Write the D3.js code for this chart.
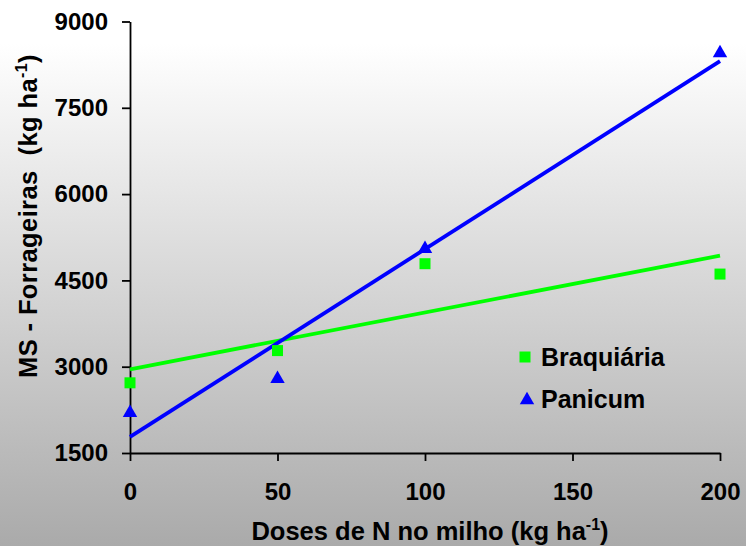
<!DOCTYPE html>
<html>
<head>
<meta charset="utf-8">
<script src="https://cdn.jsdelivr.net/npm/d3@7"></script>
<style>
  body { margin: 0; }
  svg { display: block; font-family: "Liberation Sans", Arial, sans-serif; font-weight: bold; }
</style>
</head>
<body>
<div id="chart"></div>
<script>
// observed points
const doses = [0, 50, 100, 200];
const braquiaria = [2720, 3280, 4790, 4610];
const panicum = [2200, 2790, 5050, 8450];

// fitted lines, read at both ends
const fitDoses = [0, 200];
const braquiariaFit = [2955, 4930];
const panicumFit = [1780, 8310];

const xTicks = [0, 50, 100, 150, 200];
const yTicks = [1500, 3000, 4500, 6000, 7500, 9000];

const width = 746, height = 546;

const svg = d3.select("#chart")
    .append("svg")
    .attr("width", width)
    .attr("height", height);

const grad = svg.append("defs")
    .append("linearGradient")
    .attr("id", "bg")
    .attr("x1", "0%").attr("y1", "0%")
    .attr("x2", "0%").attr("y2", "100%");
grad.append("stop").attr("offset", "0%").attr("stop-color", "#ffffff");
grad.append("stop").attr("offset", "8%").attr("stop-color", "#ffffff");
grad.append("stop").attr("offset", "100%").attr("stop-color", "#aaaaaa");

svg.append("rect")
    .attr("width", width)
    .attr("height", height)
    .attr("fill", "url(#bg)");

const x = d3.scaleLinear().domain([0, 200]).range([130, 720]);
const y = d3.scaleLinear().domain([1500, 9000]).range([453, 21.5]);

// axes
const xAxis = d3.axisBottom(x)
    .tickValues(xTicks)
    .tickFormat(d3.format("d"))
    .tickSize(8)
    .tickSizeOuter(0)
    .tickPadding(22);

const yAxis = d3.axisLeft(y)
    .tickValues(yTicks)
    .tickFormat(d3.format("d"))
    .tickSize(8)
    .tickSizeOuter(0)
    .tickPadding(14);

const gx = svg.append("g")
    .attr("transform", `translate(0,${y(1500)})`)
    .call(xAxis);

const gy = svg.append("g")
    .attr("transform", `translate(${x(0)},0)`)
    .call(yAxis);

[gx, gy].forEach(g => {
    g.selectAll("path, line").attr("stroke", "#000").attr("stroke-width", 1.8);
    g.selectAll("text")
        .attr("fill", "#000")
        .style("font-size", "24px")
        .style("font-family", "'Liberation Sans', Arial, sans-serif")
        .style("font-weight", "bold");
});

// fitted lines
const line = d3.line()
    .x(d => x(d[0]))
    .y(d => y(d[1]));

svg.append("path")
    .datum(d3.zip(fitDoses, braquiariaFit))
    .attr("d", line)
    .attr("fill", "none")
    .attr("stroke", "#00ff00")
    .attr("stroke-width", 3.8);

svg.append("path")
    .datum(d3.zip(fitDoses, panicumFit))
    .attr("d", line)
    .attr("fill", "none")
    .attr("stroke", "#0000ff")
    .attr("stroke-width", 3.8);

// markers
const square = d3.symbol().type(d3.symbolSquare).size(121);
const triangle = d3.symbol().type(d3.symbolTriangle).size(90);

svg.append("g").selectAll("path")
    .data(d3.zip(doses, braquiaria))
    .join("path")
    .attr("d", square)
    .attr("transform", d => `translate(${x(d[0])},${y(d[1])})`)
    .attr("fill", "#00ff00");

svg.append("g").selectAll("path")
    .data(d3.zip(doses, panicum))
    .join("path")
    .attr("d", triangle)
    .attr("transform", d => `translate(${x(d[0])},${y(d[1])})`)
    .attr("fill", "#0000ff");

// legend
const legend = svg.append("g");
legend.append("path")
    .attr("d", square)
    .attr("transform", "translate(525,357)")
    .attr("fill", "#00ff00");
legend.append("text")
    .attr("x", 541).attr("y", 366)
    .style("font-size", "25px")
    .text("Braquiária");
legend.append("path")
    .attr("d", triangle)
    .attr("transform", "translate(527,400)")
    .attr("fill", "#0000ff");
legend.append("text")
    .attr("x", 541).attr("y", 408)
    .style("font-size", "25px")
    .text("Panicum");

// axis titles
const xTitle = svg.append("text")
    .attr("x", 430).attr("y", 540)
    .attr("text-anchor", "middle")
    .style("font-size", "25.5px");
xTitle.append("tspan").text("Doses de N no milho (kg ha");
xTitle.append("tspan").attr("dy", -10).style("font-size", "16px").text("-1");
xTitle.append("tspan").attr("dy", 10).text(")");

const yTitle = svg.append("text")
    .attr("transform", "translate(37,216) rotate(-90)")
    .attr("text-anchor", "middle")
    .style("white-space", "pre")
    .style("letter-spacing", "0.4px")
    .style("font-size", "25.5px");
yTitle.append("tspan").text("MS - Forrageiras  (kg ha");
yTitle.append("tspan").attr("dy", -10).style("font-size", "16px").text("-1");
yTitle.append("tspan").attr("dy", 10).text(")");
</script>
</body>
</html>
